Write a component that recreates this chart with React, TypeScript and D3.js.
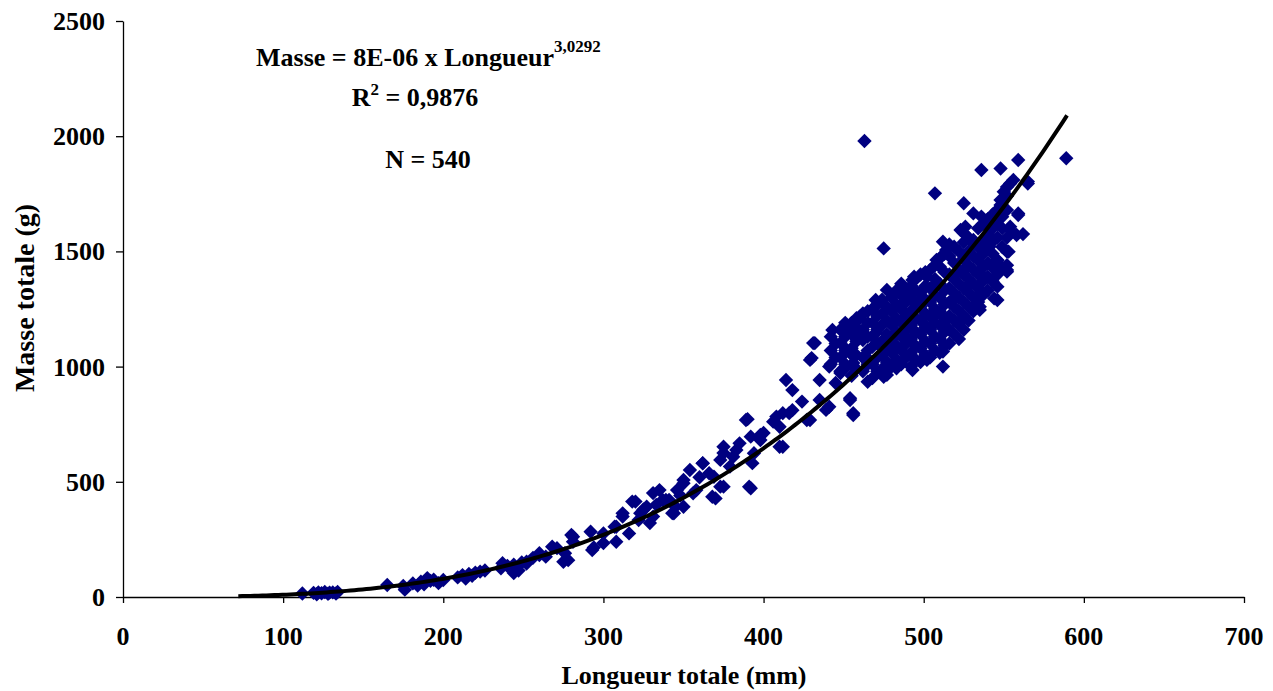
import React, { useEffect, useRef } from "react";
import * as d3 from "d3";

// Longueur totale (mm) / Masse totale (g) samples
const lengthsMm: number[] = [];
const massesG: number[] = [];
const addPoints = (pts: [number, number][]) => {
  for (const [l, m] of pts) {
    lengthsMm.push(l);
    massesG.push(m);
  }
};

// small fish
addPoints([
  [112, 15], [119, 18], [121, 12], [122, 20], [124, 16], [126, 22], [128, 14], [129, 19],
  [131, 20], [133, 15], [134, 22],
]);
// 165–200 mm
addPoints([
  [165, 52], [175, 48], [176, 32], [181, 59], [184, 50], [186, 66], [188, 55], [190, 82],
  [192, 70], [194, 75], [197, 60], [200, 74],
]);
// 205–280 mm
addPoints([
  [209, 85], [212, 95], [214, 80], [216, 100], [218, 92], [220, 105], [223, 110], [226, 115],
  [236, 125], [237, 147], [240, 135], [244, 104], [244, 140], [247, 115], [249, 150], [252, 145],
  [252, 153], [256, 170], [260, 182], [260, 190], [264, 175], [268, 218], [271, 212], [275, 153],
  [276, 190], [278, 160], [280, 269], [281, 240], [281, 262],
]);
// 290–400 mm
addPoints([
  [292, 283], [293, 204], [294, 215], [300, 234], [300, 276], [307, 305], [308, 240], [308, 305],
  [312, 349], [312, 363], [316, 276], [318, 414], [320, 414], [322, 334], [323, 364], [325, 380],
  [327, 392], [329, 321], [331, 349], [331, 451], [333, 400], [335, 464], [337, 421], [339, 421],
  [341, 421], [343, 364], [344, 363], [345, 392], [346, 464], [348, 440], [350, 494], [350, 508],
  [350, 392], [354, 551], [356, 450], [358, 464], [360, 520], [362, 581], [362, 580], [366, 537],
  [368, 435], [369, 522], [370, 428], [373, 479], [373, 595], [375, 625], [375, 652], [375, 479],
  [379, 566], [381, 609], [383, 638], [385, 667], [389, 768], [390, 772], [391, 479], [392, 472],
  [392, 696], [393, 581], [394, 624], [398, 681], [398, 703], [400, 712],
]);
// 405–445 mm
addPoints([
  [406, 761], [408, 783], [410, 652], [410, 739], [412, 798], [412, 652], [414, 942], [416, 798],
  [418, 811], [418, 898], [424, 848], [427, 768], [429, 768], [429, 1029], [430, 1037], [431, 1102],
  [432, 1102], [435, 942], [435, 855], [439, 812], [441, 826], [441, 1000], [443, 1159], [445, 929],
]);
// 445–477 mm edges and outliers
addPoints([
  [448, 972], [448, 1102], [452, 1000], [452, 1072], [452, 1173], [454, 855], [454, 1059],
  [454, 863], [456, 790], [456, 798], [456, 1016], [460, 1146], [460, 1210], [460, 1217],
  [462, 1115], [462, 1231], [463, 1979], [464, 1029], [465, 934], [466, 1029], [468, 1086],
  [470, 1146], [470, 1289], [473, 1173], [475, 956], [475, 1513], [477, 964], [477, 1333],
]);
// dense cluster 440–555 mm
addPoints([
  [442, 1010], [442, 1070], [442, 1130],
  [448, 980], [448, 1040], [448, 1160],
  [455, 960], [455, 1080], [455, 1140], [455, 1190],
  [462, 980], [462, 1040], [462, 1160],
  [468, 950], [468, 1010], [468, 1130], [468, 1190], [468, 1250],
  [474, 990], [474, 1050], [474, 1110], [474, 1230], [474, 1290],
  [480, 1000], [480, 1060], [480, 1120], [480, 1180], [480, 1240], [480, 1300],
  [486, 1010], [486, 1070], [486, 1130], [486, 1190], [486, 1250], [486, 1310], [486, 1360],
  [492, 1000], [492, 1060], [492, 1120], [492, 1180], [492, 1240], [492, 1300], [492, 1350],
  [498, 1020], [498, 1080], [498, 1140], [498, 1200], [498, 1260], [498, 1320], [498, 1400],
  [504, 1040], [504, 1100], [504, 1160], [504, 1220], [504, 1280], [504, 1340], [504, 1420],
  [510, 1060], [510, 1120], [510, 1180], [510, 1240], [510, 1300], [510, 1360], [510, 1470],
  [516, 1100], [516, 1160], [516, 1220], [516, 1280], [516, 1340], [516, 1400], [516, 1480], [516, 1530],
  [522, 1120], [522, 1180], [522, 1240], [522, 1300], [522, 1360], [522, 1420], [522, 1500],
  [528, 1200], [528, 1260], [528, 1320], [528, 1380], [528, 1440], [528, 1500], [528, 1560],
  [534, 1280], [534, 1340], [534, 1400], [534, 1460], [534, 1520], [534, 1600],
  [540, 1330], [540, 1390], [540, 1450], [540, 1510], [540, 1570], [540, 1640],
  [546, 1400], [546, 1460], [546, 1560], [546, 1620], [546, 1680],
  [552, 1440], [552, 1560], [552, 1680], [552, 1740],
]);
addPoints([
  [445, 1040], [445, 1100],
  [451, 1010], [451, 1070], [451, 1130], [451, 1190],
  [458, 990], [458, 1050], [458, 1110], [458, 1170], [458, 1210],
  [465, 1010], [465, 1070], [465, 1130], [465, 1190], [465, 1240],
  [471, 980], [471, 1040], [471, 1100], [471, 1160], [471, 1220], [471, 1270],
  [477, 1020], [477, 1080], [477, 1140], [477, 1200], [477, 1260],
  [483, 1030], [483, 1090], [483, 1150], [483, 1210], [483, 1270], [483, 1330],
  [489, 1040], [489, 1100], [489, 1160], [489, 1220], [489, 1280], [489, 1330],
  [495, 1030], [495, 1090], [495, 1150], [495, 1210], [495, 1270], [495, 1330], [495, 1380],
  [501, 1050], [501, 1110], [501, 1170], [501, 1230], [501, 1290], [501, 1350], [501, 1410],
  [507, 1070], [507, 1130], [507, 1190], [507, 1250], [507, 1310], [507, 1380], [507, 1440],
  [513, 1090], [513, 1150], [513, 1210], [513, 1270], [513, 1330], [513, 1410], [513, 1490],
  [519, 1140], [519, 1200], [519, 1260], [519, 1320], [519, 1380], [519, 1450], [519, 1520],
  [525, 1160], [525, 1220], [525, 1280], [525, 1340], [525, 1400], [525, 1470], [525, 1540], [525, 1580],
  [531, 1240], [531, 1300], [531, 1360], [531, 1420], [531, 1480], [531, 1550],
  [537, 1310], [537, 1370], [537, 1430], [537, 1490], [537, 1550], [537, 1620],
  [543, 1370], [543, 1430], [543, 1490], [543, 1600], [543, 1660],
  [549, 1430], [549, 1520], [549, 1600], [549, 1650],
]);
// cluster edges 479–590 mm
addPoints([
  [479, 1072], [483, 993], [485, 1260], [489, 1130], [493, 985], [493, 1202], [493, 1376],
  [494, 1390], [498, 1289], [500, 1188], [502, 1029], [502, 1043], [502, 1390], [506, 1347],
  [507, 1752], [508, 1231], [508, 1463], [510, 1434], [512, 1000], [512, 1065], [512, 1542],
  [514, 1202], [514, 1506], [518, 1289], [518, 1390], [523, 1593], [524, 1202], [525, 1463],
  [525, 1709], [526, 1607], [527, 1347], [527, 1434], [531, 1260], [531, 1535], [531, 1665],
  [535, 1246], [535, 1260], [535, 1318], [535, 1405], [535, 1477], [536, 1651], [536, 1853],
  [541, 1520], [544, 1549], [544, 1296], [544, 1448], [546, 1289], [546, 1347], [546, 1463],
  [548, 1701], [548, 1723], [548, 1860], [550, 1759], [552, 1412], [552, 1419], [552, 1499],
  [552, 1780], [553, 1499], [554, 1593], [554, 1607], [554, 1795], [556, 1810], [558, 1571],
  [559, 1658], [559, 1665], [559, 1897], [562, 1575], [565, 1795], [565, 1803], [589, 1904],
]);

// Power fit: Masse = a x Longueur^b (a shown rounded in the label)
const fitCoef = 8.47e-6;
const fitExp = 3.0292;
const fitRange: [number, number] = [72, 590];

const xTicks = [0, 100, 200, 300, 400, 500, 600, 700];
const yTicks = [0, 500, 1000, 1500, 2000, 2500];

const W = 1273;
const H = 691;
const FONT = "'Liberation Serif', 'Times New Roman', serif";

const x = d3.scaleLinear().domain([0, 700]).range([123, 1244]);
const y = d3.scaleLinear().domain([0, 2500]).range([597, 21]);

const txt = {
  fontFamily: FONT,
  fontWeight: "bold" as const,
  fontSize: 26,
  fill: "#000",
};
const sup = { fontSize: 17 };

export default function App() {
  const ref = useRef<SVGGElement | null>(null);

  useEffect(() => {
    const g = d3.select(ref.current!);
    g.selectAll("*").remove();

    const xAxis = g
      .append("g")
      .attr("transform", `translate(0,${y(0)})`)
      .call(d3.axisBottom(x).tickValues(xTicks).tickSize(6).tickFormat(() => "").tickSizeOuter(0));
    const yAxis = g
      .append("g")
      .attr("transform", `translate(${x(0)},0)`)
      .call(d3.axisLeft(y).tickValues(yTicks).tickSize(7).tickFormat(() => "").tickSizeOuter(0));
    for (const a of [xAxis, yAxis]) {
      a.select(".domain").attr("stroke", "#000").attr("stroke-width", 1.3);
      a.selectAll(".tick line").attr("stroke", "#000").attr("stroke-width", 1.3);
    }

    const diamond = d3.symbol().type(d3.symbolDiamond2).size(132)();
    g.append("g")
      .selectAll("path")
      .data(d3.range(lengthsMm.length))
      .join("path")
      .attr("d", diamond)
      .attr("transform", (i) => `translate(${x(lengthsMm[i])},${y(massesG[i])})`)
      .attr("fill", "#000080");

    const fitPts = d3
      .range(fitRange[0], fitRange[1] + 0.5, 2.5)
      .map((l) => [l, fitCoef * Math.pow(l, fitExp)] as [number, number]);
    g.append("path")
      .datum(fitPts)
      .attr(
        "d",
        d3
          .line<[number, number]>()
          .x((d) => x(d[0]))
          .y((d) => y(d[1]))
      )
      .attr("fill", "none")
      .attr("stroke", "#000")
      .attr("stroke-width", 4)
      .attr("stroke-linejoin", "round");
  }, []);

  return (
    <svg
      width={W}
      height={H}
      style={{ position: "absolute", left: 0, top: 0, background: "#fff" }}
    >
      <g ref={ref} />
      {yTicks.map((t) => (
        <text key={`y${t}`} x={105} y={y(t) + 9} textAnchor="end" style={txt}>
          {t}
        </text>
      ))}
      {xTicks.map((t) => (
        <text key={`x${t}`} x={x(t)} y={645} textAnchor="middle" style={txt}>
          {t}
        </text>
      ))}
      <text x={684} y={684} textAnchor="middle" style={txt}>
        Longueur totale (mm)
      </text>
      <text
        transform="translate(34,298) rotate(-90)"
        textAnchor="middle"
        style={{ ...txt, fontSize: 28 }}
      >
        Masse totale (g)
      </text>
      <text x={256} y={66} style={txt}>
        Masse = 8E-06 x Longueur
        <tspan dy={-14} style={sup}>
          3,0292
        </tspan>
      </text>
      <text x={415} y={106} textAnchor="middle" style={txt}>
        R
        <tspan dy={-11} style={sup}>
          2
        </tspan>
        <tspan dy={11}> = 0,9876</tspan>
      </text>
      <text x={428} y={168} textAnchor="middle" style={txt}>
        N = 540
      </text>
    </svg>
  );
}
